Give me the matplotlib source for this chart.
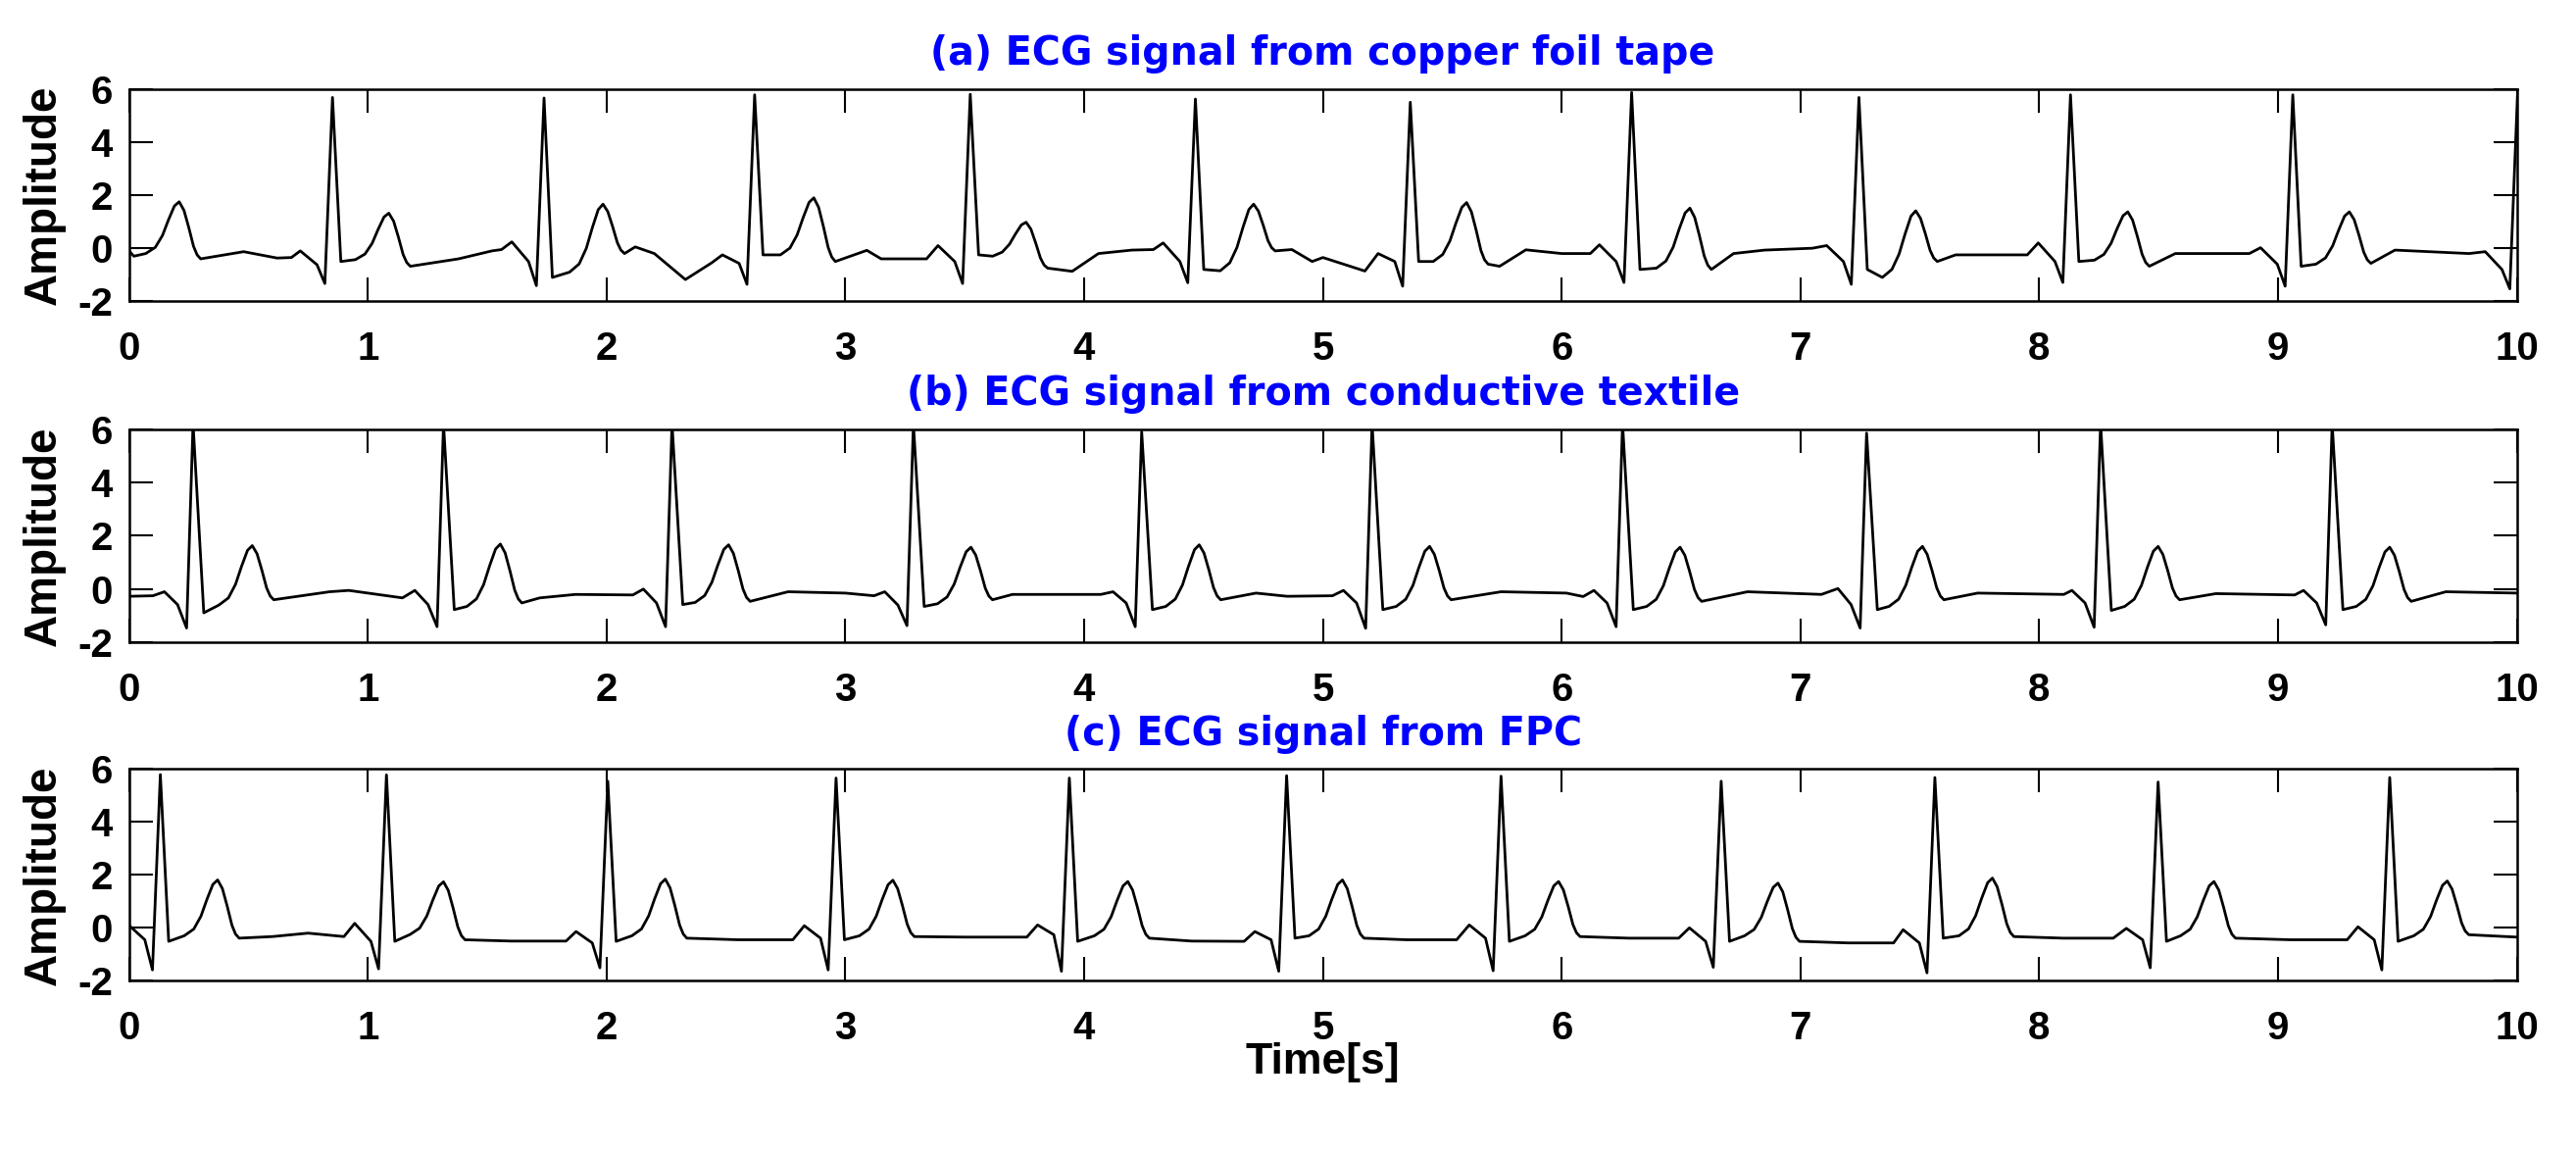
import matplotlib
matplotlib.use("Agg")
import matplotlib.pyplot as plt
import numpy as np

# ---- values (time in s, amplitude) ----
titles = ["(a) ECG signal from copper foil tape",
          "(b) ECG signal from conductive textile",
          "(c) ECG signal from FPC"]
x_ticks = list(range(0, 11))
y_ticks = [-2, 0, 2, 4, 6]
y_tick_labels = ["-2", "0", "2", "4", "6"]

# (a) copper foil tape
a_r_time = [0.852, 1.738, 2.620, 3.523, 4.466, 5.366, 6.293, 7.245, 8.131, 9.062, 10.003]
a_r_amp = [5.68, 5.66, 5.78, 5.80, 5.62, 5.50, 5.87, 5.68, 5.78, 5.78, 5.75]
a_q_amp = [-1.33, -1.41, -1.36, -1.33, -1.30, -1.43, -1.29, -1.36, -1.29, -1.43, -1.53]
a_p_amp = [-0.10, 0.24, -0.25, 0.10, 0.20, -0.20, 0.13, 0.10, 0.20, 0.02, -0.13]
a_pr_amp = [-0.62, -0.50, -0.57, -0.50, -0.50, -0.50, -0.50, -0.50, -0.50, -0.60, -0.80]
a_s_amp = [-0.50, -1.10, -0.25, -0.25, -0.80, -0.50, -0.80, -0.80, -0.50, -0.68, -0.50]
a_t_time = [0.210, 1.088, 1.985, 2.868, 3.757, 4.710, 5.602, 6.537, 7.483, 8.371, 9.299]
a_t_amp = [1.75, 1.32, 1.66, 1.90, 0.98, 1.66, 1.72, 1.51, 1.41, 1.37, 1.37]
a_st_amp = [-0.20, -0.43, -0.90, -0.25, -0.30, -0.85, -0.50, -0.75, -1.10, -0.45, -0.60]
a_t_dip = [-0.40, -0.68, -0.20, -0.50, -0.75, -0.10, -0.60, -0.80, -0.50, -0.68, -0.57]
a_base_time = [0.00, 0.02, 0.48, 0.62, 0.68, 1.38, 1.52, 1.56, 2.12, 2.20, 2.33, 2.44,
               3.09, 3.15, 3.34, 3.95, 4.06, 4.20, 4.29, 4.87, 4.955, 5.00, 5.176,
               5.74, 5.85, 6.00, 6.12, 6.72, 6.85, 7.05, 7.65, 7.95, 8.57, 8.88, 9.49, 9.80]
a_base_amp = [-0.10, -0.30, -0.13, -0.37, -0.35, -0.40, -0.10, -0.05, 0.05, -0.20, -1.18, -0.55,
              -0.08, -0.40, -0.40, -0.87, -0.20, -0.07, -0.05, -0.05, -0.50, -0.35, -0.86,
              -0.68, -0.06, -0.20, -0.20, -0.20, -0.07, 0.00, -0.25, -0.25, -0.20, -0.20, -0.07, -0.20]

# (b) conductive textile
b_r_time = [0.268, 1.317, 2.274, 3.285, 4.241, 5.206, 6.255, 7.277, 8.257, 9.227]
b_r_amp = [6.2, 6.2, 6.2, 6.2, 5.9, 6.2, 6.2, 5.85, 6.2, 6.2]
b_q_amp = [-1.46, -1.41, -1.41, -1.37, -1.41, -1.47, -1.41, -1.46, -1.43, -1.34]
b_p_amp = [-0.10, -0.05, 0.00, -0.10, -0.10, -0.05, -0.05, 0.02, -0.05, -0.05]
b_pr_amp = [-0.58, -0.58, -0.52, -0.60, -0.52, -0.52, -0.52, -0.58, -0.52, -0.52]
b_s_amp = [-0.89, -0.77, -0.58, -0.65, -0.77, -0.77, -0.77, -0.77, -0.80, -0.77]
b_t_time = [0.516, 1.555, 2.511, 3.526, 4.482, 5.447, 6.496, 7.511, 8.498, 9.468]
b_t_amp = [1.63, 1.69, 1.66, 1.57, 1.66, 1.60, 1.57, 1.60, 1.60, 1.57]
b_st_amp = [-0.60, -0.65, -0.50, -0.55, -0.65, -0.65, -0.65, -0.65, -0.65, -0.65]
b_t_dip = [-0.40, -0.52, -0.46, -0.40, -0.40, -0.40, -0.46, -0.40, -0.40, -0.46]
b_base_time = [0.00, 0.10, 0.66, 0.84, 0.92, 1.145, 1.72, 1.87, 2.11, 2.76, 3.00, 3.12,
               3.70, 4.07, 4.72, 4.85, 5.04, 5.746, 6.02, 6.09, 6.778, 7.088, 7.742,
               8.103, 8.74, 9.07, 9.703, 10.0]
b_base_amp = [-0.27, -0.25, -0.33, -0.10, -0.05, -0.33, -0.33, -0.20, -0.22, -0.10, -0.15, -0.25,
              -0.20, -0.20, -0.15, -0.27, -0.25, -0.10, -0.15, -0.28, -0.10, -0.20, -0.15,
              -0.20, -0.17, -0.22, -0.10, -0.15]

# (c) FPC
c_r_time = [0.131, 1.078, 2.005, 2.961, 3.938, 4.848, 5.746, 6.668, 7.563, 8.498, 9.468]
c_r_amp = [5.79, 5.78, 5.54, 5.66, 5.66, 5.75, 5.73, 5.54, 5.68, 5.51, 5.68]
c_q_amp = [-1.59, -1.55, -1.51, -1.59, -1.64, -1.64, -1.62, -1.49, -1.70, -1.51, -1.59]
c_p_amp = [0.11, 0.17, -0.14, 0.08, 0.11, -0.14, 0.11, 0.00, -0.07, -0.02, 0.04]
c_pr_amp = [-0.45, -0.51, -0.57, -0.39, -0.26, -0.45, -0.39, -0.51, -0.57, -0.45, -0.45]
c_s_amp = [-0.51, -0.51, -0.51, -0.45, -0.51, -0.39, -0.51, -0.51, -0.39, -0.51, -0.51]
c_t_time = [0.371, 1.317, 2.246, 3.199, 4.183, 5.082, 5.987, 6.906, 7.804, 8.732, 9.709]
c_t_amp = [1.81, 1.74, 1.84, 1.80, 1.75, 1.81, 1.75, 1.69, 1.88, 1.75, 1.77]
c_st_amp = [-0.30, -0.25, -0.30, -0.30, -0.30, -0.30, -0.30, -0.30, -0.30, -0.30, -0.30]
c_t_dip = [-0.39, -0.45, -0.39, -0.33, -0.39, -0.39, -0.33, -0.51, -0.33, -0.39, -0.26]
c_base_time = [0.60, 0.75, 0.90, 1.60, 1.83, 2.55, 2.78, 3.50, 3.76, 4.45, 4.67, 5.35, 5.56,
               6.28, 6.49, 7.20, 7.39, 8.10, 8.31, 9.05, 9.29, 10.0]
c_base_amp = [-0.33, -0.20, -0.33, -0.50, -0.50, -0.45, -0.45, -0.35, -0.35, -0.50, -0.51,
              -0.45, -0.45, -0.39, -0.39, -0.57, -0.57, -0.39, -0.39, -0.45, -0.45, -0.35]

# beat shape: offsets from R peak of P peak, PR segment, Q, S (s)
a_qrs_dt = [-0.135, -0.065, -0.032, 0.035]
b_qrs_dt = [-0.120, -0.065, -0.027, 0.045]
c_qrs_dt = [-0.133, -0.065, -0.033, 0.035]
# T wave shape around its peak
T_RISE_DT = [-0.14, -0.10, -0.07, -0.045, -0.02]
T_RISE_FRAC = [0.0, 0.12, 0.35, 0.65, 0.92]
T_FALL_DT = [0.02, 0.04, 0.06, 0.075, 0.09]
T_FALL_FRAC = [0.85, 0.55, 0.22, 0.07, 0.0]


def build_trace(r_time, r_amp, q_amp, p_amp, pr_amp, s_amp, qrs_dt,
                t_time, t_amp, st_amp, t_dip, base_time, base_amp):
    ts, vs = list(base_time), list(base_amp)
    for r, ra, qa, pa, pra, sa in zip(r_time, r_amp, q_amp, p_amp, pr_amp, s_amp):
        ts += [r + qrs_dt[0], r + qrs_dt[1], r + qrs_dt[2], r, r + qrs_dt[3]]
        vs += [pa, pra, qa, ra, sa]
    for tt, ta, sa, td in zip(t_time, t_amp, st_amp, t_dip):
        for dt, f in zip(T_RISE_DT, T_RISE_FRAC):
            ts.append(tt + dt)
            vs.append(sa + f * (ta - sa))
        ts.append(tt)
        vs.append(ta)
        for dt, f in zip(T_FALL_DT, T_FALL_FRAC):
            ts.append(tt + dt)
            vs.append(td + f * (ta - td))
    order = np.argsort(ts)
    return np.asarray(ts)[order], np.asarray(vs)[order]


traces = [
    build_trace(a_r_time, a_r_amp, a_q_amp, a_p_amp, a_pr_amp, a_s_amp, a_qrs_dt,
                a_t_time, a_t_amp, a_st_amp, a_t_dip, a_base_time, a_base_amp),
    build_trace(b_r_time, b_r_amp, b_q_amp, b_p_amp, b_pr_amp, b_s_amp, b_qrs_dt,
                b_t_time, b_t_amp, b_st_amp, b_t_dip, b_base_time, b_base_amp),
    build_trace(c_r_time, c_r_amp, c_q_amp, c_p_amp, c_pr_amp, c_s_amp, c_qrs_dt,
                c_t_time, c_t_amp, c_st_amp, c_t_dip, c_base_time, c_base_amp),
]

plt.rcParams["font.family"] = ["Liberation Sans", "DejaVu Sans"]
plt.rcParams["font.weight"] = "bold"
plt.rcParams["axes.unicode_minus"] = False

fig = plt.figure(figsize=(26.28, 11.77), dpi=100)
positions = [
    [0.0501, 0.7389, 0.9269, 0.1840],
    [0.0501, 0.4433, 0.9269, 0.1849],
    [0.0501, 0.1501, 0.9269, 0.1835],
]

for i, (pos, title, (t, v)) in enumerate(zip(positions, titles, traces)):
    ax = fig.add_axes(pos)
    ax.plot(t, v, color="black", linewidth=2.0, solid_joinstyle="round")
    ax.set_xlim(0, 10)
    ax.set_ylim(-2, 6)
    ax.set_xticks(x_ticks)
    ax.set_yticks(y_ticks)
    ax.set_yticklabels(y_tick_labels)
    ax.tick_params(direction="in", length=17, width=1.5, top=True, right=True,
                   labelsize=29)
    ax.tick_params(axis="x", pad=21.5)
    ax.tick_params(axis="y", pad=12)
    for sp in ax.spines.values():
        sp.set_linewidth(1.8)
    ax.set_title(title, fontsize=28.5, fontweight="bold", color="#0000FF",
                 pad=17.5, family="DejaVu Sans")
    ax.set_ylabel("Amplitude", fontsize=33, fontweight="bold")
    ax.yaxis.set_label_coords(-0.0265, 0.5)
    if i == 2:
        ax.set_xlabel("Time[s]", fontsize=32, fontweight="bold")
        ax.xaxis.set_label_coords(0.5, -0.29)

fig.savefig("out.png", dpi=100, facecolor="white")
